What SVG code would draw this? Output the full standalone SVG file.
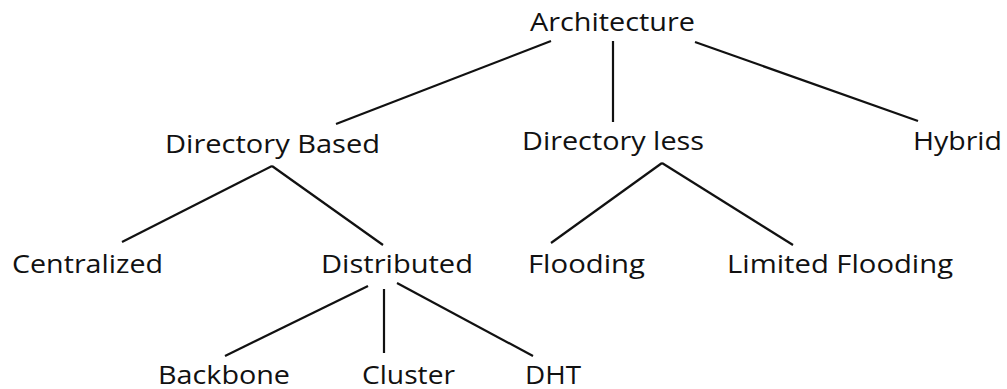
<svg xmlns="http://www.w3.org/2000/svg" width="1007" height="389" viewBox="0 0 1007 389">
  <style>
    .lbl { font-family: "Open Sans", Lato, "Liberation Sans", sans-serif; font-size: 25px; fill: #111; }
    .edge { stroke: #111; stroke-width: 2.2; stroke-linecap: butt; fill: none; }
  </style>
  <rect width="1007" height="389" fill="#fff"/>

  <g id="connectors">
    <line class="edge" x1="551" y1="41" x2="336" y2="124"/>
    <line class="edge" x1="613" y1="41" x2="613" y2="122"/>
    <line class="edge" x1="695" y1="42" x2="918" y2="121"/>
    <line class="edge" x1="272" y1="166" x2="122" y2="242"/>
    <line class="edge" x1="272" y1="166" x2="383" y2="245"/>
    <line class="edge" x1="662" y1="163" x2="551" y2="243"/>
    <line class="edge" x1="662" y1="163" x2="793" y2="245"/>
    <line class="edge" x1="368" y1="286" x2="225" y2="356"/>
    <line class="edge" x1="384" y1="289" x2="384" y2="353"/>
    <line class="edge" x1="397" y1="283" x2="533" y2="356"/>
  </g>

  <g id="architecture"><text class="lbl" x="530" y="31" textLength="165" lengthAdjust="spacingAndGlyphs">Architecture</text></g>
  <g id="directory-based"><text class="lbl" x="165" y="153" textLength="215" lengthAdjust="spacingAndGlyphs">Directory Based</text></g>
  <g id="directory-less"><text class="lbl" x="522" y="150" textLength="182" lengthAdjust="spacingAndGlyphs">Directory less</text></g>
  <g id="hybrid"><text class="lbl" x="913" y="150" textLength="89" lengthAdjust="spacingAndGlyphs">Hybrid</text></g>
  <g id="centralized"><text class="lbl" x="12" y="273" textLength="151" lengthAdjust="spacingAndGlyphs">Centralized</text></g>
  <g id="distributed"><text class="lbl" x="321" y="273" textLength="152" lengthAdjust="spacingAndGlyphs">Distributed</text></g>
  <g id="flooding"><text class="lbl" x="528" y="273" textLength="117" lengthAdjust="spacingAndGlyphs">Flooding</text></g>
  <g id="limited-flooding"><text class="lbl" x="727" y="273" textLength="226" lengthAdjust="spacingAndGlyphs">Limited Flooding</text></g>
  <g id="backbone"><text class="lbl" x="158" y="384" textLength="132" lengthAdjust="spacingAndGlyphs">Backbone</text></g>
  <g id="cluster"><text class="lbl" x="362" y="384" textLength="93" lengthAdjust="spacingAndGlyphs">Cluster</text></g>
  <g id="dht"><text class="lbl" x="525" y="384" textLength="56" lengthAdjust="spacingAndGlyphs">DHT</text></g>
</svg>
